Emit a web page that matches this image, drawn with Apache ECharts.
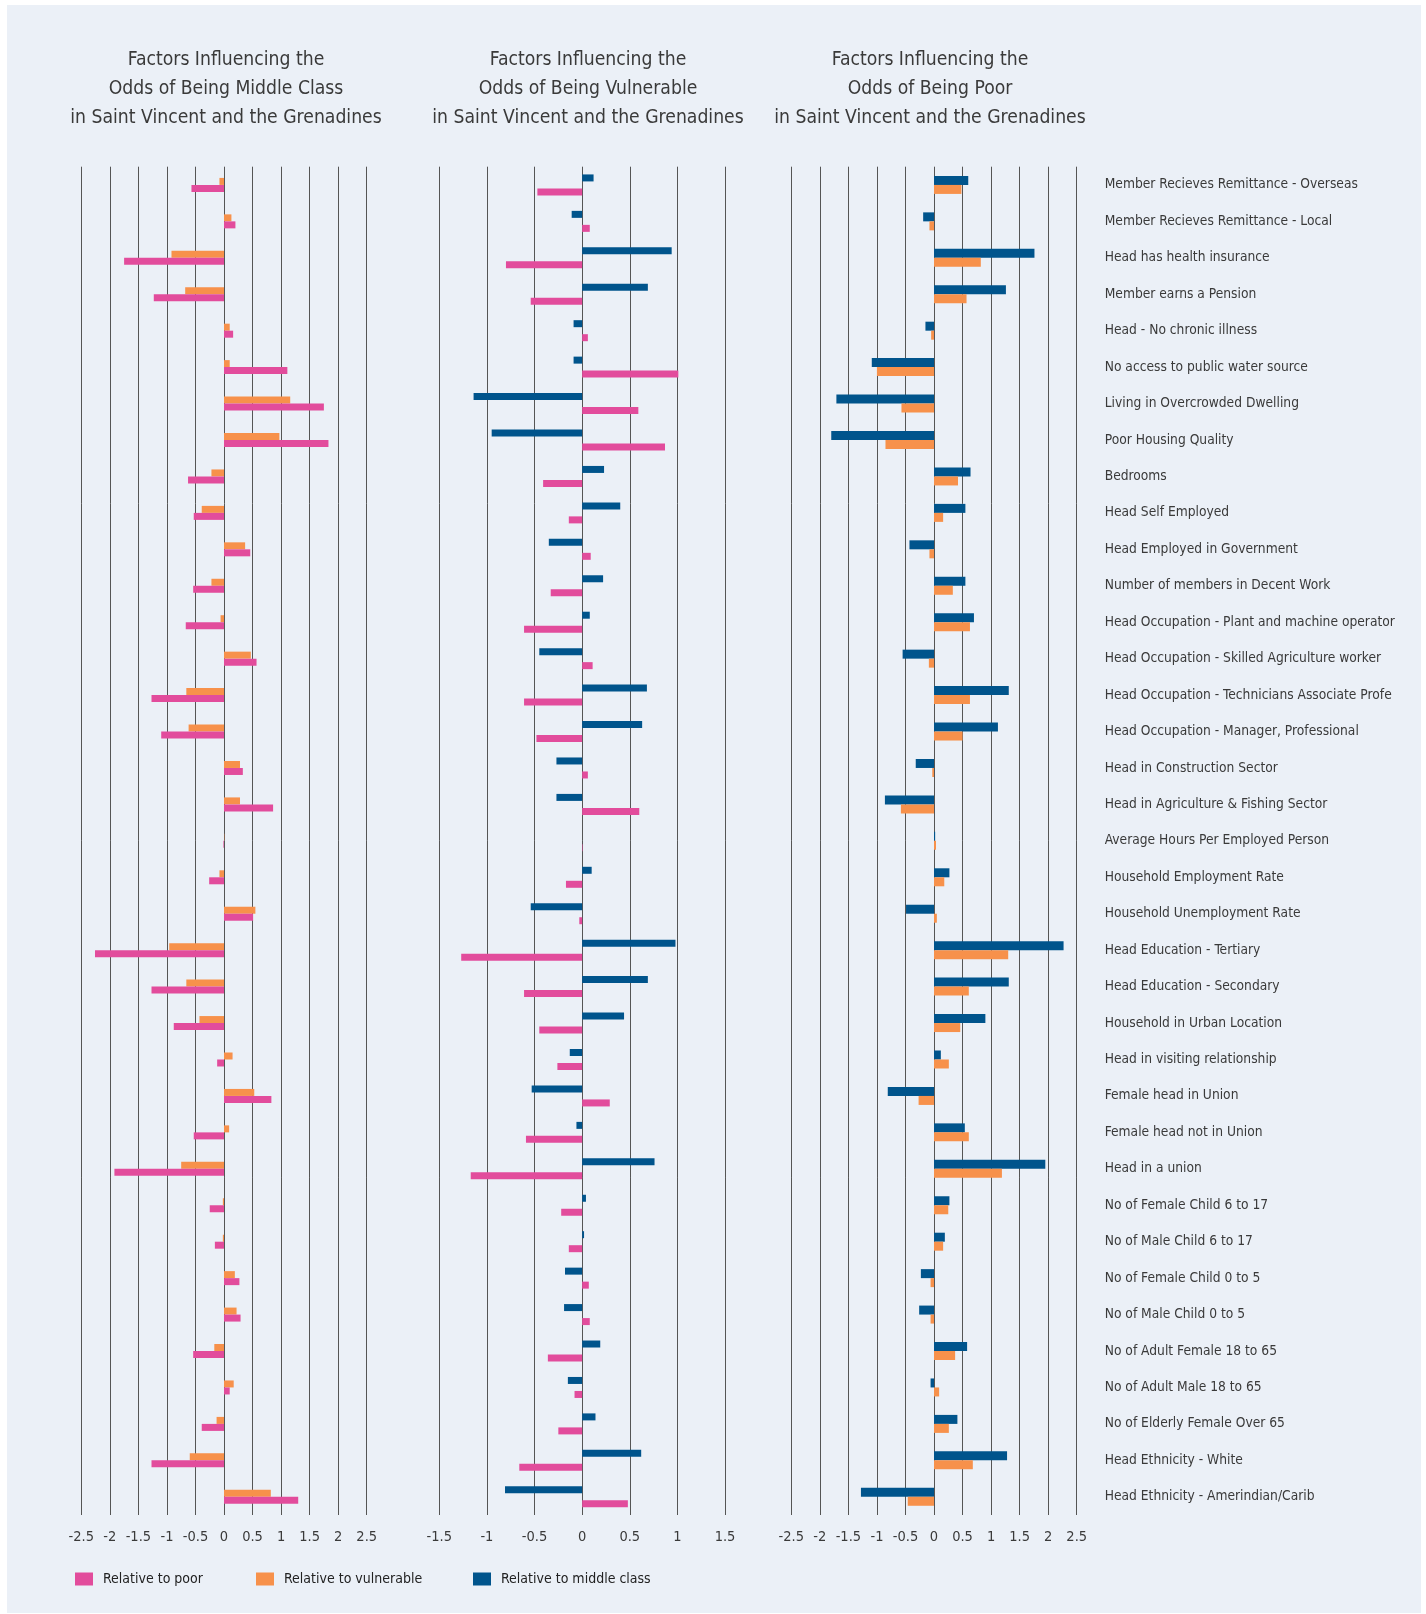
<!DOCTYPE html>
<html>
<head>
<meta charset="utf-8">
<script src="https://cdn.jsdelivr.net/npm/echarts@6/dist/echarts.min.js"></script>
<style>
  html, body { margin: 0; padding: 0; background: #ffffff; }
  #chart { width: 1426px; height: 1614px; }
</style>
</head>
<body>
<div id="chart"></div>
<script>
// Factors (logit coefficients), listed top to bottom
const factors = [
  'Member Recieves Remittance - Overseas',
  'Member Recieves Remittance - Local',
  'Head has health insurance',
  'Member earns a Pension',
  'Head - No chronic illness',
  'No access to public water source',
  'Living in Overcrowded Dwelling',
  'Poor Housing Quality',
  'Bedrooms',
  'Head Self Employed',
  'Head Employed in Government',
  'Number of members in Decent Work',
  'Head Occupation - Plant and machine operator',
  'Head Occupation - Skilled Agriculture worker',
  'Head Occupation - Technicians Associate Professionals',
  'Head Occupation - Manager, Professional',
  'Head in Construction Sector',
  'Head in Agriculture & Fishing Sector',
  'Average Hours Per Employed Person',
  'Household Employment Rate',
  'Household Unemployment Rate',
  'Head Education - Tertiary',
  'Head Education - Secondary',
  'Household in Urban Location',
  'Head in visiting relationship',
  'Female head in Union',
  'Female head not in Union',
  'Head in a union',
  'No of Female Child 6 to 17',
  'No of Male Child 6 to 17',
  'No of Female Child 0 to 5',
  'No of Male Child 0 to 5',
  'No of Adult Female 18 to 65',
  'No of Adult Male 18 to 65',
  'No of Elderly Female Over 65',
  'Head Ethnicity - White',
  'Head Ethnicity - Amerindian/Carib'
];

// Odds of being middle class
const middleVsVulnerable = [
  -0.08, 0.13, -0.92, -0.68, 0.10, 0.10, 1.16, 0.97, -0.22, -0.39,
  0.37, -0.22, -0.06, 0.47, -0.66, -0.62, 0.28, 0.28, 0.005, -0.08,
  0.55, -0.96, -0.66, -0.43, 0.15, 0.53, 0.09, -0.75, -0.02, -0.02,
  0.19, 0.22, -0.17, 0.17, -0.13, -0.60, 0.82
];
const middleVsPoor = [
  -0.57, 0.20, -1.75, -1.23, 0.16, 1.11, 1.75, 1.83, -0.63, -0.53,
  0.46, -0.54, -0.67, 0.57, -1.27, -1.10, 0.33, 0.86, -0.01, -0.26,
  0.51, -2.26, -1.27, -0.88, -0.12, 0.83, -0.53, -1.92, -0.25, -0.16,
  0.27, 0.29, -0.54, 0.10, -0.39, -1.27, 1.30
];

// Odds of being vulnerable
const vulnerableVsMiddle = [
  0.12, -0.11, 0.94, 0.69, -0.09, -0.09, -1.14, -0.95, 0.23, 0.40,
  -0.35, 0.22, 0.08, -0.45, 0.68, 0.63, -0.27, -0.27, 0, 0.10,
  -0.54, 0.98, 0.69, 0.44, -0.13, -0.53, -0.06, 0.76, 0.04, 0.02,
  -0.18, -0.19, 0.19, -0.15, 0.14, 0.62, -0.81
];
const vulnerableVsPoor = [
  -0.47, 0.08, -0.80, -0.54, 0.06, 1.01, 0.59, 0.87, -0.41, -0.14,
  0.09, -0.33, -0.61, 0.11, -0.61, -0.48, 0.06, 0.60, 0.005, -0.17,
  -0.03, -1.27, -0.61, -0.45, -0.26, 0.29, -0.59, -1.17, -0.22, -0.14,
  0.07, 0.08, -0.36, -0.08, -0.25, -0.66, 0.48
];

// Odds of being poor
const poorVsMiddle = [
  0.60, -0.19, 1.76, 1.26, -0.15, -1.09, -1.71, -1.80, 0.64, 0.55,
  -0.43, 0.55, 0.70, -0.55, 1.31, 1.12, -0.32, -0.86, 0.02, 0.27,
  -0.49, 2.27, 1.31, 0.90, 0.12, -0.81, 0.54, 1.95, 0.27, 0.19,
  -0.23, -0.26, 0.58, -0.06, 0.41, 1.28, -1.28
];
const poorVsVulnerable = [
  0.48, -0.08, 0.82, 0.57, -0.05, -1.00, -0.57, -0.85, 0.42, 0.16,
  -0.08, 0.33, 0.63, -0.09, 0.63, 0.50, -0.03, -0.58, 0.035, 0.18,
  0.05, 1.30, 0.61, 0.46, 0.26, -0.27, 0.61, 1.19, 0.25, 0.16,
  -0.06, -0.06, 0.37, 0.09, 0.26, 0.68, -0.46
];

// Axis tick labels
const ticksWide = [-2.5, -2, -1.5, -1, -0.5, 0, 0.5, 1, 1.5, 2, 2.5];
const ticksNarrow = [-1.5, -1, -0.5, 0, 0.5, 1, 1.5];

const panelTitles = [
  'Factors Influencing the\nOdds of Being Middle Class\nin Saint Vincent and the Grenadines',
  'Factors Influencing the\nOdds of Being Vulnerable\nin Saint Vincent and the Grenadines',
  'Factors Influencing the\nOdds of Being Poor\nin Saint Vincent and the Grenadines'
];

const legendNames = ['Relative to poor', 'Relative to vulnerable', 'Relative to middle class'];

const COLORS = {
  poor: '#E24C9C',
  vulnerable: '#F7914B',
  middle: '#00548C'
};

const FONT = "'Liberation Sans Narrow', 'DejaVu Sans Condensed', 'Arial Narrow', sans-serif";
const TEXT = '#3a3a3a';

const gridTop = 166.7;
const gridHeight = 1348.3;
const grids = [
  { left: 81.3, width: 285.4, top: gridTop, height: gridHeight },
  { left: 439.3, width: 285.7, top: gridTop, height: gridHeight },
  { left: 791.3, width: 285.4, top: gridTop, height: gridHeight }
];

function valueAxis(gridIndex, ticks) {
  return {
    type: 'value',
    gridIndex: gridIndex,
    min: ticks[0],
    max: ticks[ticks.length - 1],
    interval: ticks[1] - ticks[0],
    axisLine: { show: false },
    axisTick: { show: false },
    axisLabel: {
      color: TEXT,
      fontFamily: FONT,
      fontSize: 14.5,
      margin: 15
    },
    splitLine: { show: true, lineStyle: { color: '#555555', width: 1 } }
  };
}

function categoryAxis(gridIndex, showLabels) {
  return {
    type: 'category',
    gridIndex: gridIndex,
    data: factors,
    inverse: true,
    position: 'right',
    axisLine: { show: false },
    axisTick: { show: false },
    splitLine: { show: false },
    axisLabel: showLabels ? {
      show: true,
      color: TEXT,
      fontFamily: FONT,
      fontSize: 13.7,
      align: 'left',
      margin: 28,
      width: 293,
      overflow: 'truncate',
      ellipsis: ''
    } : { show: false }
  };
}

function barSeries(name, data, axisIndex, color, width, gap) {
  return {
    type: 'bar',
    name: name,
    data: data,
    xAxisIndex: axisIndex,
    yAxisIndex: axisIndex,
    barWidth: width,
    barGap: gap,
    itemStyle: { color: color },
    emphasis: { disabled: true }
  };
}

function legendItem(name, left) {
  return {
    data: [name],
    left: left,
    top: 1572,
    padding: 0,
    icon: 'rect',
    itemWidth: 18,
    itemHeight: 13,
    selectedMode: false,
    textStyle: {
      color: '#222222',
      fontFamily: FONT,
      fontSize: 14,
      padding: [0, 0, 0, 5]
    }
  };
}

const chart = echarts.init(document.getElementById('chart'), null, { renderer: 'canvas' });

chart.setOption({
  animation: false,
  backgroundColor: '#ffffff',
  graphic: [{
    type: 'rect',
    z: -10,
    silent: true,
    shape: { x: 7, y: 5, width: 1414, height: 1608 },
    style: { fill: '#EBF0F7' }
  }],
  title: panelTitles.map((t, i) => ({
    text: t,
    left: [226, 588, 930][i],
    top: 46,
    padding: 0,
    textAlign: 'center',
    textStyle: {
      color: TEXT,
      fontFamily: FONT,
      fontSize: 19.2,
      fontWeight: 'normal',
      lineHeight: 28.8
    }
  })),
  legend: [
    legendItem(legendNames[0], 75),
    legendItem(legendNames[1], 256),
    legendItem(legendNames[2], 473)
  ],
  grid: grids,
  xAxis: [
    valueAxis(0, ticksWide),
    valueAxis(1, ticksNarrow),
    valueAxis(2, ticksWide)
  ],
  yAxis: [
    categoryAxis(0, false),
    categoryAxis(1, false),
    categoryAxis(2, true)
  ],
  series: [
    barSeries(legendNames[1], middleVsVulnerable, 0, COLORS.vulnerable, 7, '0%'),
    barSeries(legendNames[0], middleVsPoor, 0, COLORS.poor, 7, '0%'),
    barSeries(legendNames[2], vulnerableVsMiddle, 1, COLORS.middle, 7, '100%'),
    barSeries(legendNames[0], vulnerableVsPoor, 1, COLORS.poor, 7, '100%'),
    barSeries(legendNames[2], poorVsMiddle, 2, COLORS.middle, 9, '0%'),
    barSeries(legendNames[1], poorVsVulnerable, 2, COLORS.vulnerable, 9, '0%')
  ]
});
</script>
</body>
</html>
